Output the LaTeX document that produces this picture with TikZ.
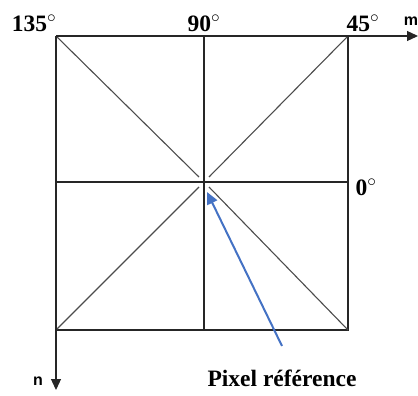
\documentclass[tikz,border=0pt]{standalone}
\usepackage{fontspec}
\setmainfont{Liberation Serif}
\newfontfamily\axisfont{Liberation Sans}
\usetikzlibrary{arrows.meta}
\begin{document}
\begin{tikzpicture}[x=1pt,y=-1pt,
  gridline/.style={draw=black!85,line width=1.3pt},
  diagline/.style={draw=black!70,line width=1.1pt},
  axisline/.style={draw=black!85,line width=1.3pt,-{Triangle[length=11pt,width=10pt]}},
  anglelbl/.style={font=\bfseries\fontsize{23.5}{23.5}\selectfont,inner sep=0pt},
  axislbl/.style={font=\axisfont\bfseries\fontsize{16}{16}\selectfont,inner sep=0pt},
  pointer/.style={draw={rgb,255:red,68;green,114;blue,196},line width=2pt,-{Triangle[length=12pt,width=11pt]}}]
\useasboundingbox (0,0) rectangle (418,396);
% corners and key points
\coordinate (tl) at (56,36);
\coordinate (tr) at (348,36);
\coordinate (bl) at (56,330);
\coordinate (br) at (348,330);
\coordinate (tm) at (204,36);
\coordinate (bm) at (204,330);
\coordinate (ml) at (56,182);
\coordinate (mr) at (348,182);
\coordinate (c1) at (199,177);
\coordinate (c2) at (209,177);
\coordinate (c3) at (199,187);
\coordinate (c4) at (209,187);
\coordinate (mend) at (418,36);
\coordinate (nend) at (56,390);
% grid
\draw[gridline] (tr) -- (br) -- (bl);
\draw[gridline] (tm) -- (bm);
\draw[gridline] (ml) -- (mr);
% diagonals
\draw[diagline] (tl) -- (c1);
\draw[diagline] (tr) -- (c2);
\draw[diagline] (bl) -- (c3);
\draw[diagline] (br) -- (c4);
% axes
\draw[axisline] (tl) -- (mend);
\draw[axisline] (tl) -- (nend);
% labels
\node[anglelbl] (a135) at (34,23) {135$^\circ$};
\node[anglelbl] (a90) at (204,23) {90$^\circ$};
\node[anglelbl] (a45) at (363,23) {45$^\circ$};
\node[anglelbl] (a0) at (366,187) {0$^\circ$};
\node[axislbl] (m) at (411,21) {m};
\node[axislbl] (n) at (38,381) {n};
\node[font=\bfseries\fontsize{23.5}{23.5}\selectfont,inner sep=0pt] (pix) at (282,378) {Pixel référence};
% pointer
\coordinate (ptail) at (282,346);
\coordinate (phead) at (207,192);
\draw[pointer] (ptail) -- (phead);
\end{tikzpicture}
\end{document}
